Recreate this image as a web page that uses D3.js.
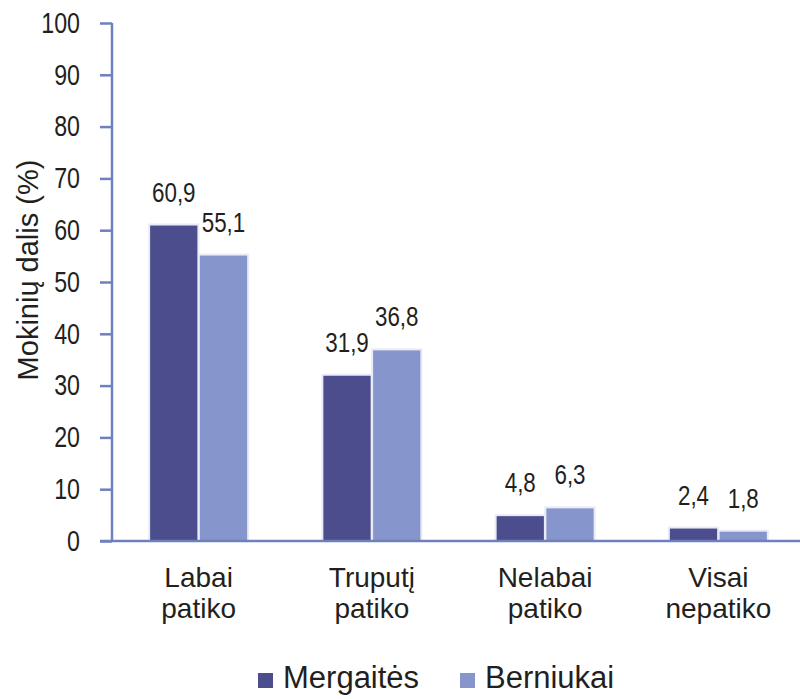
<!DOCTYPE html>
<html>
<head>
<meta charset="utf-8">
<script src="https://cdn.jsdelivr.net/npm/d3@7"></script>
<style>
  body { margin: 0; background: #fff; }
  text { fill: #231f20; }
</style>
</head>
<body>
<svg id="chart" width="800" height="699"></svg>
<script>
const categories = [["Labai", "patiko"], ["Truputį", "patiko"], ["Nelabai", "patiko"], ["Visai", "nepatiko"]];
const series = ["Mergaitės", "Berniukai"];
const girls = [60.9, 31.9, 4.8, 2.4];
const boys = [55.1, 36.8, 6.3, 1.8];
const yTicks = [0, 10, 20, 30, 40, 50, 60, 70, 80, 90, 100];

const colors = { "Mergaitės": "#4b4d8d", "Berniukai": "#8795cd" };
const axisColor = "#6f80bf";
const font = "'Liberation Sans', Arial, sans-serif";
const squeeze = 0.8; // numbers in the original are condensed

const svg = d3.select("#chart");

const y = d3.scaleLinear().domain([0, 100]).range([541, 23]);
const x0 = d3.scaleBand().domain(d3.range(categories.length)).range([112, 805]);
const x1 = d3.scaleBand().domain(series).range([0, 97]).paddingInner(0.05);
const groupOffset = (x0.bandwidth() - 97) / 2;

const rows = categories.map((c, i) => ({ i, values: [
  { key: "Mergaitės", v: girls[i] },
  { key: "Berniukai", v: boys[i] }
]}));

// bars
const g = svg.selectAll(".grp").data(rows).enter().append("g")
  .attr("transform", d => `translate(${x0(d.i) + groupOffset},0)`);

// faint halo around bars
g.selectAll(".halo").data(d => d.values).enter().append("rect")
  .attr("x", d => x1(d.key) - 2)
  .attr("y", d => y(d.v) - 2)
  .attr("width", x1.bandwidth() + 4)
  .attr("height", d => y(0) - y(d.v) + 2)
  .attr("fill", "#e9ebf6");

g.selectAll(".bar").data(d => d.values).enter().append("rect")
  .attr("x", d => x1(d.key))
  .attr("y", d => y(d.v))
  .attr("width", x1.bandwidth())
  .attr("height", d => y(0) - y(d.v))
  .attr("fill", d => colors[d.key]);

g.selectAll(".lbl").data(d => d.values).enter().append("text")
  .attr("transform", d => `translate(${x1(d.key) + x1.bandwidth() / 2},${y(d.v) - 24}) scale(${squeeze},1)`)
  .attr("text-anchor", "middle")
  .style("font-family", font)
  .style("font-size", "28px")
  .text(d => d3.format(".1f")(d.v).replace(".", ","));

// y axis
const yAxis = svg.append("g").attr("transform", "translate(112,0)")
  .call(d3.axisLeft(y).tickValues(yTicks).tickSize(12).tickPadding(20));
yAxis.select(".domain").attr("stroke", axisColor).attr("stroke-width", 2.5)
  .attr("d", `M0,${y(100)}V${y(0)}`);
yAxis.selectAll(".tick line").attr("stroke", axisColor).attr("stroke-width", 2.5);
yAxis.selectAll(".tick text")
  .attr("x", -32 / squeeze)
  .attr("transform", `scale(${squeeze},1)`)
  .style("font-family", font)
  .style("font-size", "29px")
  .attr("fill", "#231f20");

// x axis line
svg.append("line")
  .attr("x1", 100).attr("x2", 800)
  .attr("y1", y(0)).attr("y2", y(0))
  .attr("stroke", axisColor).attr("stroke-width", 2.5);

// category labels
const cat = svg.selectAll(".cat").data(categories).enter().append("text")
  .attr("text-anchor", "middle")
  .style("font-family", font)
  .style("font-size", "28px");
cat.append("tspan").attr("x", (d, i) => x0(i) + x0.bandwidth() / 2).attr("y", 587).text(d => d[0]);
cat.append("tspan").attr("x", (d, i) => x0(i) + x0.bandwidth() / 2).attr("y", 618).text(d => d[1]);

// y title
svg.append("text")
  .attr("transform", "translate(38,270) rotate(-90)")
  .attr("text-anchor", "middle")
  .style("font-family", font)
  .style("font-size", "29px")
  .text("Mokinių dalis (%)");

// legend
const legendX = [258, 460];
const leg = svg.selectAll(".leg").data(series).enter().append("g")
  .attr("transform", (d, i) => `translate(${legendX[i]},673)`);
leg.append("rect").attr("width", 15).attr("height", 15).attr("fill", d => colors[d]);
leg.append("text").attr("x", 25).attr("y", 15)
  .style("font-family", font)
  .style("font-size", "31px")
  .text(d => d);
</script>
</body>
</html>
